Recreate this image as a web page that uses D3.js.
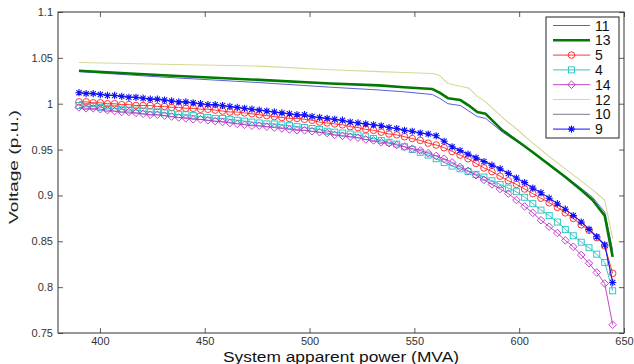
<!DOCTYPE html>
<html>
<head>
<meta charset="utf-8">
<script src="https://cdn.jsdelivr.net/npm/d3@7"></script>
<style>
  html, body { margin: 0; padding: 0; background: #fff; }
  svg { display: block; font-family: "Liberation Sans", Arial, sans-serif; }
</style>
</head>
<body>
<svg id="chart" width="634" height="364"></svg>
<script>
// ---------- data ----------
// shared apparent-power steps for the marker series (MVA)
const xPow = [390, 393.4, 396.8, 400.2, 403.6, 407, 410.4, 413.8, 417.2, 420.6,
  424, 427.4, 430.8, 434.2, 437.6, 441, 444.5, 448, 451.5, 455,
  458.5, 462, 465.5, 469, 472.5, 476, 479.6, 483.2, 486.8, 490.4,
  494, 497.6, 501.2, 504.8, 508.4, 512, 515.7, 519.4, 523.1, 526.8,
  530.5, 534.2, 537.9, 541.6, 545.3, 549, 552.8, 556.6, 560.4, 564.2,
  568, 571.8, 575.6, 579.4, 583.2, 587, 590.9, 594.8, 598.7, 602.6,
  606.5, 610.4, 614.3, 618.2, 622, 625.8, 629.6, 633.3, 637, 640.8, 644.6];

const v9 = [1.012, 1.011, 1.011, 1.010, 1.009, 1.009, 1.008, 1.007, 1.007, 1.006,
  1.005, 1.005, 1.004, 1.003, 1.002, 1.002, 1.001, 1.000, 0.999, 0.999,
  0.998, 0.997, 0.996, 0.995, 0.994, 0.993, 0.992, 0.991, 0.990, 0.989,
  0.988, 0.988, 0.986, 0.985, 0.984, 0.983, 0.982, 0.980, 0.979, 0.978,
  0.977, 0.976, 0.974, 0.973, 0.971, 0.970, 0.968, 0.967, 0.965, 0.959,
  0.953, 0.949, 0.945, 0.941, 0.937, 0.933, 0.929, 0.924, 0.919, 0.914,
  0.908, 0.903, 0.897, 0.891, 0.885, 0.878, 0.871, 0.863, 0.855, 0.846, 0.805];

const v5 = [1.002, 1.002, 1.001, 1.001, 1.000, 1.000, 0.999, 0.999, 0.998, 0.998,
  0.998, 0.997, 0.997, 0.996, 0.996, 0.995, 0.995, 0.994, 0.994, 0.993,
  0.992, 0.991, 0.991, 0.990, 0.989, 0.988, 0.987, 0.986, 0.985, 0.984,
  0.984, 0.983, 0.982, 0.980, 0.979, 0.978, 0.977, 0.975, 0.974, 0.972,
  0.971, 0.969, 0.967, 0.966, 0.964, 0.962, 0.960, 0.957, 0.955, 0.952,
  0.948, 0.944, 0.940, 0.935, 0.930, 0.926, 0.921, 0.916, 0.912, 0.907,
  0.902, 0.897, 0.892, 0.887, 0.881, 0.875, 0.868, 0.862, 0.854, 0.845, 0.815];

const v4 = [0.998, 0.997, 0.997, 0.996, 0.995, 0.995, 0.994, 0.993, 0.993, 0.992,
  0.991, 0.991, 0.990, 0.989, 0.988, 0.988, 0.987, 0.986, 0.985, 0.984,
  0.984, 0.983, 0.982, 0.981, 0.980, 0.979, 0.978, 0.978, 0.977, 0.976,
  0.975, 0.974, 0.973, 0.972, 0.970, 0.969, 0.968, 0.967, 0.966, 0.964,
  0.962, 0.960, 0.958, 0.956, 0.953, 0.950, 0.947, 0.944, 0.940, 0.936,
  0.932, 0.929, 0.926, 0.923, 0.920, 0.916, 0.912, 0.908, 0.904, 0.898,
  0.891, 0.884, 0.878, 0.871, 0.863, 0.856, 0.849, 0.843, 0.836, 0.827, 0.796];

const v14 = [0.996, 0.995, 0.995, 0.994, 0.993, 0.992, 0.991, 0.991, 0.990, 0.989,
  0.988, 0.988, 0.987, 0.986, 0.985, 0.984, 0.983, 0.983, 0.982, 0.981,
  0.980, 0.979, 0.978, 0.977, 0.976, 0.976, 0.975, 0.974, 0.973, 0.972,
  0.971, 0.971, 0.970, 0.969, 0.968, 0.966, 0.965, 0.964, 0.963, 0.961,
  0.960, 0.958, 0.957, 0.955, 0.953, 0.951, 0.949, 0.946, 0.943, 0.940,
  0.936, 0.931, 0.927, 0.922, 0.917, 0.912, 0.907, 0.902, 0.895, 0.888,
  0.881, 0.873, 0.866, 0.859, 0.851, 0.844, 0.835, 0.826, 0.816, 0.804, 0.759];

// breakpoints for the plain-line series (MVA)
const lineX = [390, 430, 476, 510, 533, 545, 558.6, 562, 566, 572, 576, 580,
  584, 592, 600, 606.5, 614, 622, 630, 635, 640.8, 644.6];
const v11 = [1.035, 1.029, 1.023, 1.018, 1.015, 1.013, 1.010, 1.006, 1.000, 0.998, 0.992, 0.986,
  0.984, 0.969, 0.957, 0.947, 0.935, 0.921, 0.907, 0.898, 0.882, 0.840];
const v13 = [1.036, 1.031, 1.026, 1.022, 1.020, 1.018, 1.016, 1.012, 1.006, 1.004, 0.998, 0.991,
  0.989, 0.971, 0.958, 0.947, 0.934, 0.920, 0.905, 0.895, 0.878, 0.833];
const v12 = [1.045, 1.043, 1.041, 1.037, 1.035, 1.034, 1.033, 1.031, 1.022, 1.019, 1.017, 1.008,
  1.002, 0.985, 0.970, 0.957, 0.943, 0.929, 0.915, 0.906, 0.895, 0.853];
const v10 = [1.013, 1.004, 0.993, 0.983, 0.976, 0.971, 0.966, 0.962, 0.956, 0.949, 0.945, 0.941,
  0.937, 0.928, 0.917, 0.908, 0.898, 0.885, 0.871, 0.860, 0.847, 0.806];

const seriesNames = ["11", "13", "5", "4", "14", "12", "10", "9"];
const xTicks = [400, 450, 500, 550, 600, 650];
const xTickLabels = ["400", "450", "500", "550", "600", "650"];
const yTicks = [0.75, 0.8, 0.85, 0.9, 0.95, 1, 1.05, 1.1];
const yTickLabels = ["0.75", "0.8", "0.85", "0.9", "0.95", "1", "1.05", "1.1"];
const xTitle = "System apparent power (MVA)";
const yTitle = "Voltage (p.u.)";

// ---------- styling / series table ----------
const series = [
  { name: "11", xs: lineX, ys: v11, color: "#5c5ce0", width: 1, marker: null },
  { name: "13", xs: lineX, ys: v13, color: "#007a00", width: 2.6, marker: null },
  { name: "5",  xs: xPow, ys: v5,  color: "#ff2020", width: 0.9, marker: "circle" },
  { name: "4",  xs: xPow, ys: v4,  color: "#20c0c0", width: 0.9, marker: "square" },
  { name: "14", xs: xPow, ys: v14, color: "#c030c8", width: 0.9, marker: "diamond" },
  { name: "12", xs: lineX, ys: v12, color: "#d8d898", width: 1.1, marker: null },
  { name: "10", xs: lineX, ys: v10, color: "#5a5a6e", width: 0.8, marker: null },
  { name: "9",  xs: xPow, ys: v9,  color: "#1010ff", width: 1, marker: "star" }
];

const W = 634, H = 364;
const m = { left: 58, right: 624, top: 12, bottom: 333 };
const svg = d3.select("#chart");

const x = d3.scaleLinear().domain([380, 650]).range([m.left, m.right]);
const y = d3.scaleLinear().domain([0.75, 1.1]).range([m.bottom, m.top]);

svg.append("rect").attr("x", 0).attr("y", 0).attr("width", W).attr("height", H).attr("fill", "#fff");

// axes (inward ticks on all four sides)
const axisColor = "#333";
const gB = svg.append("g").attr("transform", `translate(0,${m.bottom})`)
  .call(d3.axisBottom(x).tickValues(xTicks).tickFormat((d, i) => xTickLabels[i]).tickSize(-5).tickPadding(4));
const gT = svg.append("g").attr("transform", `translate(0,${m.top})`)
  .call(d3.axisTop(x).tickValues(xTicks).tickFormat("").tickSize(-5));
const gL = svg.append("g").attr("transform", `translate(${m.left},0)`)
  .call(d3.axisLeft(y).tickValues(yTicks).tickFormat((d, i) => yTickLabels[i]).tickSize(-5).tickPadding(5));
const gR = svg.append("g").attr("transform", `translate(${m.right},0)`)
  .call(d3.axisRight(y).tickValues(yTicks).tickFormat("").tickSize(-5));
[gB, gT, gL, gR].forEach(g => {
  g.select(".domain").remove();
  g.selectAll(".tick line").attr("stroke", axisColor).attr("stroke-width", 0.8);
  g.selectAll(".tick text").attr("fill", "#333").style("font-size", "11px")
    .style("font-family", "'Liberation Sans', Arial, sans-serif");
});

// frame
svg.append("rect").attr("x", m.left).attr("y", m.top)
  .attr("width", m.right - m.left).attr("height", m.bottom - m.top)
  .attr("fill", "none").attr("stroke", axisColor).attr("stroke-width", 1);

// titles
svg.append("text").attr("x", 341).attr("y", 362)
  .attr("text-anchor", "middle").attr("fill", "#111")
  .style("font-size", "14px").attr("textLength", 236).attr("lengthAdjust", "spacingAndGlyphs")
  .text(xTitle);
svg.append("text").attr("transform", "translate(18,167) rotate(-90)")
  .attr("text-anchor", "middle").attr("fill", "#222")
  .style("font-size", "13px").attr("textLength", 114).attr("lengthAdjust", "spacingAndGlyphs")
  .text(yTitle);

// markers
function drawMarker(g, type, cx, cy, color) {
  if (type === "circle") {
    g.append("circle").attr("cx", cx).attr("cy", cy).attr("r", 3.3)
      .attr("fill", "none").attr("stroke", color).attr("stroke-width", 0.9);
  } else if (type === "square") {
    g.append("rect").attr("x", cx - 3).attr("y", cy - 3).attr("width", 6).attr("height", 6)
      .attr("fill", "none").attr("stroke", color).attr("stroke-width", 0.9);
  } else if (type === "diamond") {
    g.append("path").attr("d", `M${cx},${cy - 3.8}L${cx + 3.8},${cy}L${cx},${cy + 3.8}L${cx - 3.8},${cy}Z`)
      .attr("fill", "none").attr("stroke", color).attr("stroke-width", 0.9);
  } else if (type === "star") {
    const r = 3.6, d = 2.6;
    g.append("path").attr("d",
      `M${cx - r},${cy}L${cx + r},${cy}M${cx},${cy - r}L${cx},${cy + r}` +
      `M${cx - d},${cy - d}L${cx + d},${cy + d}M${cx - d},${cy + d}L${cx + d},${cy - d}`)
      .attr("fill", "none").attr("stroke", color).attr("stroke-width", 1.1);
  }
}

const plot = svg.append("g");
const line = d3.line().x(d => x(d[0])).y(d => y(d[1]));
series.forEach(s => {
  const pts = s.xs.map((xv, i) => [xv, s.ys[i]]);
  const g = plot.append("g");
  g.append("path").attr("d", line(pts)).attr("fill", "none")
    .attr("stroke", s.color).attr("stroke-width", s.width).attr("stroke-linejoin", "round");
  if (s.marker) pts.forEach(p => drawMarker(g, s.marker, x(p[0]), y(p[1]), s.color));
});

// legend
const lg = svg.append("g");
const lx0 = 546, ly0 = 17, lw = 73, lh = 121;
lg.append("rect").attr("x", lx0).attr("y", ly0).attr("width", lw).attr("height", lh)
  .attr("fill", "#fff").attr("stroke", "#222").attr("stroke-width", 1);
series.forEach((s, i) => {
  const cy = 25.5 + i * 14.8;
  lg.append("line").attr("x1", 553).attr("x2", 590).attr("y1", cy).attr("y2", cy)
    .attr("stroke", s.color).attr("stroke-width", s.width);
  if (s.marker) drawMarker(lg, s.marker, 571.5, cy, s.color);
  lg.append("text").attr("x", 595).attr("y", cy + 5).attr("fill", "#111")
    .style("font-size", "14px").text(seriesNames[i]);
});
</script>
</body>
</html>
